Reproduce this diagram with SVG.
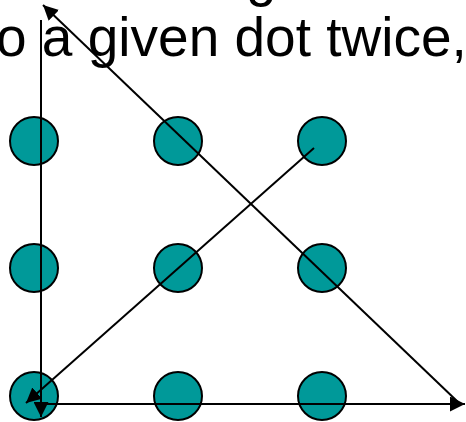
<svg xmlns="http://www.w3.org/2000/svg" width="466" height="422" viewBox="0 0 466 422">
<style>
.dot{fill:#009999;stroke:#000;stroke-width:2}
.ln{stroke:#000;stroke-width:2;fill:none}
.t{font-family:"Liberation Sans",Arial,sans-serif;font-size:55px;fill:#000}
</style>
<defs>
<marker id="ah" viewBox="0 0 10 10" refX="10" refY="5" markerWidth="7.5" markerHeight="7.5" orient="auto" markerUnits="strokeWidth">
<path d="M0,0 L10,5 L0,10 z" fill="#000"/>
</marker>
</defs>
<rect width="466" height="422" fill="#fff"/>
<text class="t" x="246" y="-5">g</text>
<text class="t" x="-4" y="56">o a given dot twice,</text>
<g id="d11"><circle class="dot" cx="34" cy="141" r="24"/></g>
<g id="d12"><circle class="dot" cx="178" cy="141" r="24"/></g>
<g id="d13"><circle class="dot" cx="322" cy="141" r="24"/></g>
<g id="d21"><circle class="dot" cx="34" cy="268" r="24"/></g>
<g id="d22"><circle class="dot" cx="178" cy="268" r="24"/></g>
<g id="d23"><circle class="dot" cx="322" cy="268" r="24"/></g>
<g id="d31"><circle class="dot" cx="34" cy="396" r="24"/></g>
<g id="d32"><circle class="dot" cx="178" cy="396" r="24"/></g>
<g id="d33"><circle class="dot" cx="322" cy="396" r="24"/></g>
<g id="connectors">
<line class="ln" x1="41" y1="20" x2="41" y2="417" marker-end="url(#ah)"/>
<line class="ln" x1="41" y1="404" x2="465" y2="404" marker-end="url(#ah)"/>
<line class="ln" x1="458" y1="402" x2="43" y2="5" marker-end="url(#ah)"/>
<line class="ln" x1="314" y1="148" x2="26" y2="403" marker-end="url(#ah)"/>
</g>
</svg>
